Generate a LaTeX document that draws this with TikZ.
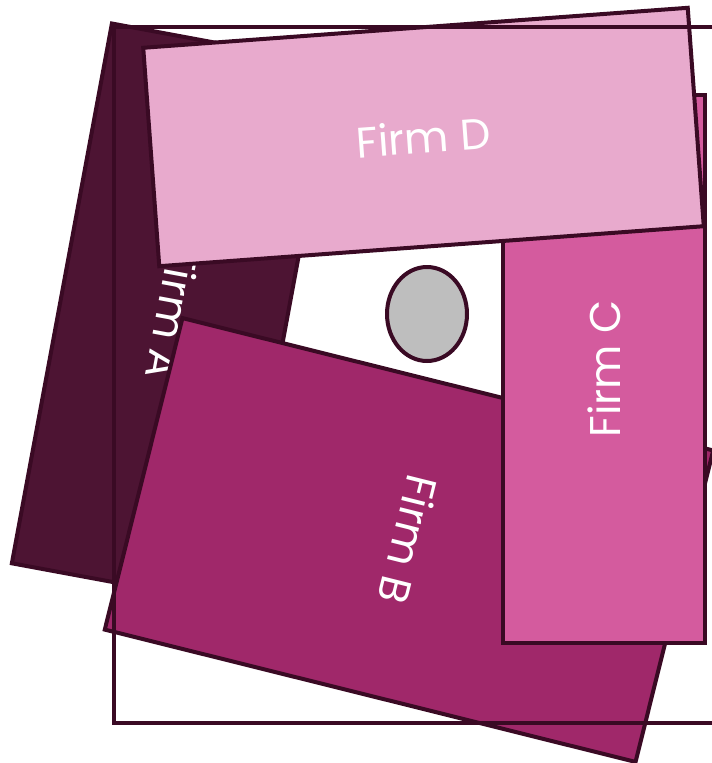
\documentclass[tikz,border=0pt]{standalone}
\usepackage{fontspec}
\setmainfont{Poppins}
\usepackage{tikz}
\usetikzlibrary{shapes.geometric}
\definecolor{firmline}{RGB}{58, 10, 36}
\definecolor{firma}{RGB}{77, 20, 51}
\definecolor{firmb}{RGB}{160, 40, 106}
\definecolor{firmc}{RGB}{212, 91, 158}
\definecolor{firmd}{RGB}{232, 170, 205}
\definecolor{hub}{RGB}{190, 190, 190}

\tikzset{
  firm/.style = {
    draw       = firmline,
    line width = 4pt,
    inner sep  = 0pt,
    text       = white,
    font       = \fontsize{43}{50}\selectfont
  }
}

\begin{document}
\begin{tikzpicture}[x = 1pt, y = -1pt]
  \clip (0,0) rectangle (712,763);
  \node[
    firm,
    fill           = firma,
    minimum width  = 549pt,
    minimum height = 226pt,
    rotate         = -100.5
  ] (firmA) at (173,314) {Firm A};
  \node[
    firm,
    fill           = firmb,
    minimum width  = 321pt,
    minimum height = 547pt,
    rotate         = -104
  ] (firmB) at (409,540) {Firm B};
  \node[
    firm,
    fill           = firmc,
    minimum width  = 548pt,
    minimum height = 202pt,
    rotate         = 90
  ] (firmC) at (604,369) {Firm C};
  \node[
    firm,
    fill           = firmd,
    minimum width  = 546pt,
    minimum height = 219pt,
    rotate         = 4.2
  ] (firmD) at (423.5,137) {Firm D};
  \node[
    ellipse,
    draw           = firmline,
    line width     = 4pt,
    fill           = hub,
    minimum width  = 80pt,
    minimum height = 94pt
  ] (hub) at (427,314) {};
  \draw[firmline, line width = 3.5pt] (114,27) rectangle (760,723);
\end{tikzpicture}
\end{document}
